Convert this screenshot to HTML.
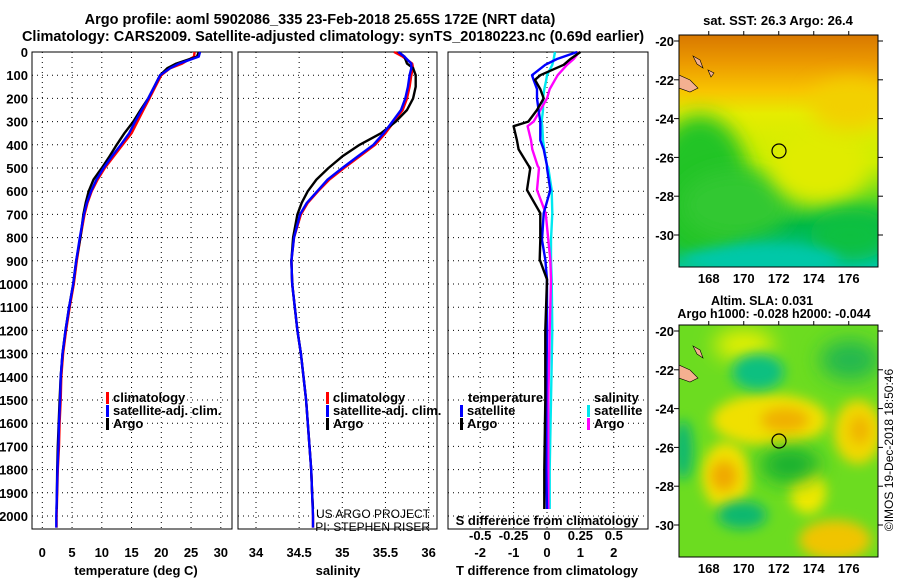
<!DOCTYPE html>
<html><head><meta charset="utf-8"><style>
body{margin:0;background:#fff;}
svg{display:block;font-family:"Liberation Sans",sans-serif;font-weight:bold;}
</style></head><body>
<svg id="c" width="900" height="580" viewBox="0 0 900 580" xmlns="http://www.w3.org/2000/svg">
<defs>
<filter id="blur6" x="-50%" y="-50%" width="200%" height="200%"><feGaussianBlur stdDeviation="6"/></filter>
<filter id="blur10" x="-50%" y="-50%" width="200%" height="200%"><feGaussianBlur stdDeviation="10"/></filter>
<clipPath id="m1"><rect x="679" y="35" width="199" height="232"/></clipPath>
<clipPath id="m2"><rect x="679" y="325" width="199" height="232"/></clipPath>
<linearGradient id="sstg" x1="0" y1="0" x2="0" y2="1">
<stop offset="0" stop-color="#d87800"/><stop offset="0.12" stop-color="#ec9a00"/>
<stop offset="0.24" stop-color="#f8c400"/><stop offset="0.34" stop-color="#e6ec00"/>
<stop offset="0.55" stop-color="#c8ee00"/><stop offset="0.7" stop-color="#60d820"/>
<stop offset="0.82" stop-color="#00b848"/><stop offset="1" stop-color="#00c8b0"/>
</linearGradient>
</defs>
<text x="320" y="24" font-size="14.5" text-anchor="middle">Argo profile: aoml 5902086_335 23-Feb-2018 25.65S 172E (NRT data)</text>
<text x="333" y="41" font-size="14.5" text-anchor="middle">Climatology: CARS2009. Satellite-adjusted climatology: synTS_20180223.nc (0.69d earlier)</text>
<g id="plots"></g>
<g id="maps">
<text x="778" y="25" font-size="13" text-anchor="middle">sat. SST: 26.3 Argo: 26.4</text>
<g clip-path="url(#m1)">
<rect x="679" y="35" width="199" height="232" fill="url(#sstg)"/>
<ellipse cx="700" cy="190" rx="50" ry="75" fill="#20c428" filter="url(#blur10)"/>
<ellipse cx="735" cy="205" rx="55" ry="35" fill="#30c830" filter="url(#blur10)"/>
<ellipse cx="820" cy="165" rx="50" ry="40" fill="#e0ec00" filter="url(#blur10)"/>
<ellipse cx="850" cy="105" rx="40" ry="25" fill="#f2d000" filter="url(#blur10)"/>
<ellipse cx="850" cy="235" rx="40" ry="25" fill="#10c040" filter="url(#blur10)"/>
<ellipse cx="760" cy="260" rx="80" ry="15" fill="#00c8a8" filter="url(#blur6)"/>
<polygon points="679,75 690,80 698,88 690,92 679,88" fill="#f4b090" stroke="#000" stroke-width="0.6"/>
<polygon points="693,56 700,60 703,68 697,64" fill="#f4b090" stroke="#000" stroke-width="0.6"/>
<polygon points="708,70 714,73 711,77" fill="#f4b090" stroke="#000" stroke-width="0.6"/>
<circle cx="779" cy="151" r="7" fill="none" stroke="#000" stroke-width="1.2"/>
</g>
<rect x="679" y="35" width="199" height="232" fill="none" stroke="#000"/>
<text x="762" y="305" font-size="12.5" text-anchor="middle">Altim. SLA: 0.031</text>
<text x="774" y="318" font-size="12.5" text-anchor="middle">Argo h1000: -0.028 h2000: -0.044</text>
<g clip-path="url(#m2)">
<rect x="679" y="325" width="199" height="232" fill="#6cdc20"/>
<ellipse cx="770" cy="420" rx="58" ry="26" fill="#f0e000" filter="url(#blur6)"/>
<ellipse cx="785" cy="420" rx="24" ry="12" fill="#f0b000" filter="url(#blur6)"/>
<ellipse cx="726" cy="476" rx="24" ry="34" fill="#f0e000" filter="url(#blur6)"/>
<ellipse cx="724" cy="476" rx="13" ry="15" fill="#f0a800" filter="url(#blur6)"/>
<ellipse cx="858" cy="432" rx="24" ry="32" fill="#f0d800" filter="url(#blur6)"/>
<ellipse cx="860" cy="430" rx="10" ry="14" fill="#f0b400" filter="url(#blur6)"/>
<ellipse cx="808" cy="492" rx="18" ry="22" fill="#f0e800" filter="url(#blur6)"/>
<ellipse cx="835" cy="540" rx="36" ry="20" fill="#f0c400" filter="url(#blur6)"/>
<ellipse cx="744" cy="345" rx="30" ry="15" fill="#e8f000" filter="url(#blur10)"/>
<ellipse cx="758" cy="372" rx="26" ry="18" fill="#10c080" filter="url(#blur6)"/>
<ellipse cx="683" cy="450" rx="10" ry="30" fill="#10b870" filter="url(#blur6)"/>
<ellipse cx="742" cy="515" rx="25" ry="14" fill="#10b870" filter="url(#blur6)"/>
<ellipse cx="790" cy="465" rx="30" ry="18" fill="#18b030" filter="url(#blur10)"/>
<ellipse cx="850" cy="360" rx="30" ry="20" fill="#20b850" filter="url(#blur10)"/>
<polygon points="679,365 690,370 698,378 690,382 679,378" fill="#f4b090" stroke="#000" stroke-width="0.6"/>
<polygon points="693,346 700,350 703,358 697,354" fill="#f4b090" stroke="#000" stroke-width="0.6"/>
<circle cx="779" cy="441" r="7" fill="none" stroke="#000" stroke-width="1.2"/>
</g>
<rect x="679" y="325" width="199" height="232" fill="none" stroke="#000"/>
<text transform="translate(893,450) rotate(-90)" font-size="12" font-weight="normal" text-anchor="middle">©IMOS 19-Dec-2018 18:50:46</text>
</g>
</svg>
<script>
// ---- data ----
const depthsT = [0,20,50,70,100,150,200,250,300,350,400,450,500,550,600,650,700,800,900,1000,1100,1200,1300,1400,1500,1600,1700,1800,1900,2000,2050];
const tempClim = [25.6,25.5,23.5,21.5,20,19,18,17,16,15,13.5,12,10.5,9.3,8.3,7.6,7.1,6.4,5.8,5.3,4.6,4.0,3.5,3.2,3.1,2.9,2.8,2.6,2.5,2.4,2.4];
const tempSat = [26.5,26.3,23,21.5,19.8,18.8,17.8,16.7,15.6,14.6,13.2,11.7,10.3,9.1,8.2,7.5,7.0,6.3,5.7,5.2,4.5,3.9,3.4,3.1,3.0,2.8,2.7,2.55,2.45,2.35,2.35];
const depthsArgo = [0,20,50,70,100,150,200,250,300,350,400,450,500,550,600,650,700,800,900,1000,1100,1200,1300,1400,1500,1600,1700,1800,1900,1970];
const tempArgo = [26.3,26.0,22.5,21,19.8,18.8,17.8,16.5,15.3,13.8,12.5,11.3,10,8.6,7.8,7.3,6.9,6.4,5.7,5.2,4.5,3.9,3.4,3.1,2.9,2.75,2.6,2.5,2.45,2.4];
const salClim = [35.6,35.7,35.81,35.82,35.8,35.78,35.75,35.7,35.6,35.5,35.38,35.2,35.02,34.85,34.72,34.6,34.52,34.44,34.41,34.42,34.45,34.48,34.52,34.55,34.58,34.6,34.62,34.64,34.65,34.66,34.66];
const salSat = [35.65,35.72,35.8,35.8,35.78,35.76,35.73,35.68,35.58,35.48,35.36,35.18,35.0,34.83,34.71,34.59,34.51,34.44,34.41,34.42,34.45,34.48,34.52,34.55,34.58,34.6,34.62,34.64,34.65,34.66,34.66];
const salArgo = [35.65,35.72,35.75,35.82,35.85,35.85,35.82,35.75,35.62,35.45,35.2,35.0,34.84,34.7,34.6,34.53,34.48,34.43,34.41,34.42,34.45,34.48,34.52,34.55,34.58,34.6,34.62,34.64,34.65,34.66];
const depthsD = [0,30,55,100,120,160,200,250,300,320,380,420,490,500,595,695,810,895,980,1200,1500,1800,1970];
const dTArgo = [1.0,0.7,0.5,-0.2,-0.36,-0.2,-0.1,-0.3,-0.56,-1.0,-0.9,-0.85,-0.55,-0.5,-0.6,-0.2,-0.2,-0.22,0,-0.05,-0.05,-0.08,-0.08];
const dTSat = [0.9,0.3,-0.05,-0.45,-0.4,-0.3,-0.3,-0.25,-0.2,-0.2,-0.2,-0.1,0,0,0.1,-0.1,-0.15,-0.05,0,0,-0.02,-0.02,0];
const dSArgo = [0.24,0.2,0.15,0.08,0.06,0.02,0,-0.05,-0.1,-0.145,-0.12,-0.11,-0.07,-0.06,-0.075,-0.01,0.01,0.025,0.03,0.02,0.01,0.01,0.01];
const dSSat = [0.06,0.05,0.04,0.0,-0.005,-0.02,-0.03,-0.03,-0.04,-0.035,-0.03,-0.02,0.0,0.01,0.035,0.04,0.03,0.03,0.035,0.04,0.03,0.02,0.02];
const depthTicks = [0,100,200,300,400,500,600,700,800,900,1000,1100,1200,1300,1400,1500,1600,1700,1800,1900,2000];
const tTicks = [0,5,10,15,20,25,30];
const sTicks = [34,34.5,35,35.5,36];
const sTickLabels = ["34","34.5","35","35.5","36"];
const dTTicks = [-2,-1,0,1,2];
const dSTicks = [-0.5,-0.25,0,0.25,0.5];
const dSTickLabels = ["-0.5","-0.25","0","0.25","0.5"];

// ---- axes ----
const NS = "http://www.w3.org/2000/svg";
const yD = d => 52 + d * 0.232;
const xT = t => 42.3 + t * 5.95;
const xS = s => 256 + (s - 34) * 86.3;
const xDT = t => 547 + t * 33.4;
const xDS = s => 547 + s * 133.6;
const g = document.getElementById('plots');
function el(tag, attrs, parent) {
  const e = document.createElementNS(NS, tag);
  for (const k in attrs) e.setAttribute(k, attrs[k]);
  (parent || g).appendChild(e);
  return e;
}
function txt(x, y, s, size, anchor) {
  const t = el('text', {x: x, y: y, 'font-size': size, 'text-anchor': anchor || 'middle'});
  t.textContent = s;
  return t;
}
const panels = [[32,232],[238,437],[448,648]];
const TOP = 52, BOT = 529;
panels.forEach((p, i) => {
  const r = el('rect', {x: p[0], y: TOP, width: p[1]-p[0], height: BOT-TOP, fill: 'none', stroke: '#000', 'stroke-width': 1});
  
  
  depthTicks.forEach(d => {
    el('line', {x1: p[0], x2: p[1], y1: yD(d), y2: yD(d), stroke: '#000', 'stroke-width': 1, 'stroke-dasharray': '1,4'});
  });
});
function vgrid(vals, fx, p) {
  vals.forEach(v => el('line', {x1: fx(v), x2: fx(v), y1: TOP, y2: BOT, stroke: '#000', 'stroke-width': 1, 'stroke-dasharray': '1,4'}));
}
vgrid(tTicks, xT, panels[0]);
vgrid(sTicks, xS, panels[1]);
vgrid(dTTicks, xDT, panels[2]);
depthTicks.forEach(d => {
  const t = txt(28, yD(d) + 5, String(d), 13, 'end');
  
  
});
tTicks.forEach(v => {
  const t = txt(xT(v), 557, String(v), 13);
  
  
});
sTicks.forEach((v, i) => {
  const t = txt(xS(v), 557, sTickLabels[i], 13);
  
  
});
dTTicks.forEach(v => {
  const t = txt(xDT(v), 557, String(v), 13);
  
  
});
dSTicks.forEach((v, i) => {
  const t = txt(xDS(v), 540, dSTickLabels[i], 13);
  
  
});
let a;
a = txt(136, 575, 'temperature (deg C)', 13);


a = txt(338, 575, 'salinity', 13);


a = txt(547, 575, 'T difference from climatology', 13);


a = txt(547, 525, 'S difference from climatology', 13);


a = txt(430, 518, 'US ARGO PROJECT', 12, 'end');
a.setAttribute('font-weight', 'normal');


a = txt(430, 531, 'PI: STEPHEN RISER', 12, 'end');
a.setAttribute('font-weight', 'normal');



// ---- series ----
function line(depths, vals, fx, color, name) {
  const pts = vals.map((v, i) => fx(v).toFixed(1) + ',' + yD(depths[i]).toFixed(1)).join(' ');
  const pl = el('polyline', {points: pts, fill: 'none', stroke: color, 'stroke-width': 2.4, 'stroke-linejoin': 'round'});
  
  
}
line(depthsT, tempClim, xT, '#ff0000', 'temp-climatology-line');
line(depthsArgo, tempArgo, xT, '#000000', 'temp-argo-line');
line(depthsT, tempSat, xT, '#0000ff', 'temp-satellite-line');
line(depthsT, salClim, xS, '#ff0000', 'sal-climatology-line');
line(depthsArgo, salArgo, xS, '#000000', 'sal-argo-line');
line(depthsT, salSat, xS, '#0000ff', 'sal-satellite-line');
line(depthsD, dSSat, xDS, '#00e8f0', 'dS-satellite-line');
line(depthsD, dSArgo, xDS, '#ff00ff', 'dS-argo-line');
line(depthsD, dTSat, xDT, '#0000ff', 'dT-satellite-line');
line(depthsD, dTArgo, xDT, '#000000', 'dT-argo-line');

// ---- legends ----
function legend(x, y, color, label, name) {
  const m = el('rect', {x: x, y: y - 10, width: 3, height: 12, fill: color});
  
  
  const t = txt(x + 7, y, label, 13, 'start');
  
  
}
legend(106, 402, '#ff0000', 'climatology', 'legend-temp-climatology');
legend(106, 415, '#0000ff', 'satellite-adj. clim.', 'legend-temp-satellite');
legend(106, 428, '#000000', 'Argo', 'legend-temp-argo');
legend(326, 402, '#ff0000', 'climatology', 'legend-sal-climatology');
legend(326, 415, '#0000ff', 'satellite-adj. clim.', 'legend-sal-satellite');
legend(326, 428, '#000000', 'Argo', 'legend-sal-argo');
a = txt(468, 402, 'temperature', 13, 'start');


a = txt(594, 402, 'salinity', 13, 'start');


legend(460, 415, '#0000ff', 'satellite', 'legend-dT-satellite');
legend(460, 428, '#000000', 'Argo', 'legend-dT-argo');
legend(587, 415, '#00e8f0', 'satellite', 'legend-dS-satellite');
legend(587, 428, '#ff00ff', 'Argo', 'legend-dS-argo');

// ---- map axes ----
const lonTicks = [168,170,172,174,176];
const latTicks = [-20,-22,-24,-26,-28,-30];
const xLon = lon => 679 + (lon - 166.3) * 17.5;
[[41,35,267],[331,325,557]].forEach((m, k) => {
  const yLat = lat => m[0] + (-20 - lat) * 19.4;
  latTicks.forEach(l => {
    const t = txt(674, yLat(l) + 5, String(l), 13, 'end');
    
    
    el('line', {x1: 674, x2: 679, y1: yLat(l), y2: yLat(l), stroke: '#000'});
    el('line', {x1: 878, x2: 883, y1: yLat(l), y2: yLat(l), stroke: '#000'});
  });
  lonTicks.forEach(l => {
    const t = txt(xLon(l), m[2] + 16, String(l), 13);
    
    
    el('line', {x1: xLon(l), x2: xLon(l), y1: m[1] - 4, y2: m[1], stroke: '#000'});
  });
});
</script>
</body></html>
